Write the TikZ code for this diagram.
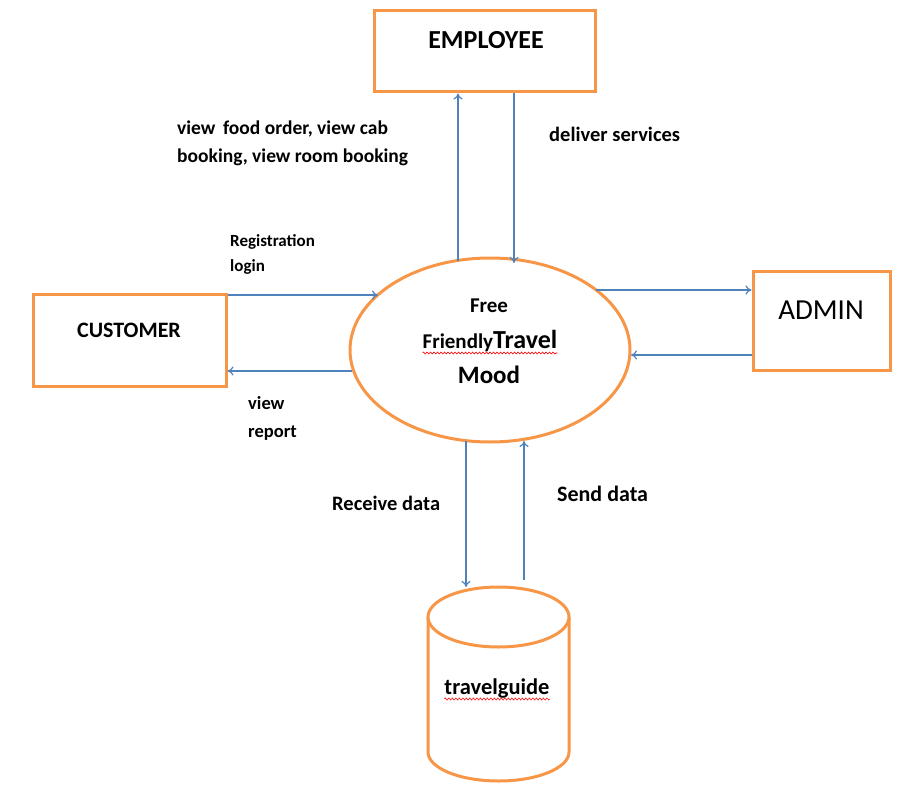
\documentclass[tikz,border=0pt]{standalone}
\usepackage{fontspec}
\setmainfont{Carlito}
\usetikzlibrary{arrows.meta,shapes.geometric,decorations.pathmorphing}
\definecolor{orng}{HTML}{F79646}
\definecolor{flowblue}{HTML}{4F81BD}
\begin{document}
\begin{tikzpicture}[x=1pt,y=-1pt,
  box/.style={draw=orng,line width=3pt,fill=white,inner sep=0pt},
  flow/.style={draw=flowblue,line width=1.2pt,-{To[length=6pt,width=9pt]}},
  lbl/.style={font=\bfseries\fontsize{19.5}{28}\selectfont,align=left,anchor=north west,inner sep=0pt},
  title/.style={font=\bfseries\fontsize{26}{28}\selectfont,inner sep=0pt},
  squig/.style={draw=red,line width=0.6pt,decorate,decoration={snake,amplitude=1pt,segment length=3.5pt}},
]
\useasboundingbox (0,0) rectangle (902,789);
% boxes
\node[box,minimum width=221pt,minimum height=81pt] (emp) at (484.5,51.5) {};
\node[title] (empt) at (486,40) {EMPLOYEE};
\node[box,minimum width=193pt,minimum height=92pt] (cust) at (129.5,340.5) {};
\node[title,font=\bfseries\fontsize{22}{24}\selectfont] (custt) at (129,330) {CUSTOMER};
\node[box,minimum width=137pt,minimum height=99pt] (adm) at (821.5,320.5) {};
\node[title,font=\fontsize{29}{30}\selectfont] (admt) at (821,310) {ADMIN};
% process
\node[draw=orng,line width=3pt,ellipse,minimum width=280pt,minimum height=184pt,inner sep=0pt] (proc) at (490,350) {};
\node[title,font=\bfseries\fontsize{21}{22}\selectfont] (p1) at (489,306) {Free};
\node[title,font=\bfseries\fontsize{21}{22}\selectfont,anchor=base] (p2) at (490,348) {Friendly\fontsize{26}{28}\selectfont Travel};
\node[title,font=\bfseries\fontsize{25}{28}\selectfont] (p3) at (489,375) {Mood};
\draw[squig] (p2.base west) ++(0,5) coordinate (sq1) -- (p2.base east |- sq1);
% data store
\coordinate (dbc) at (498.5,617);
\draw[orng,line width=3pt] (428,617) -- (428,752) arc[start angle=180,end angle=360,x radius=70.5,y radius=-29] -- (569,617);
\draw[orng,line width=3pt,fill=white] (dbc) ellipse [x radius=70.5,y radius=30];
\node[title,font=\bfseries\fontsize{22.5}{24}\selectfont,anchor=base] (dbt) at (497,694) {travelguide};
\draw[squig] (dbt.base west) ++(0,5) coordinate (sq2) -- (dbt.base east |- sq2);
% connection points on the process ellipse
\coordinate (pe1) at (458,260.5);
\coordinate (pe2) at (514,263);
\coordinate (pe3) at (378,295);
\coordinate (pe4) at (352,371);
\coordinate (pe5) at (596,290);
\coordinate (pe6) at (631,355);
\coordinate (pe7) at (466,440.5);
\coordinate (pe8) at (524,441);
\coordinate (db1) at (466,587);
\coordinate (db2) at (524,580);
% flows
\draw[flow] (pe1) -- (emp.south -| pe1);
\draw[flow] (emp.south -| pe2) -- (pe2);
\draw[flow] (cust.east |- pe3) -- (pe3);
\draw[flow] (pe4) -- (cust.east |- pe4);
\draw[flow] (pe5) -- (adm.west |- pe5);
\draw[flow] (adm.west |- pe6) -- (pe6);
\draw[flow] (pe7) -- (db1);
\draw[flow] (db2) -- (pe8);
% labels
\node[lbl] (l1) at (177,121) {view\, food order, view cab\\booking, view room booking};
\node[lbl,font=\bfseries\fontsize{20.5}{28}\selectfont] (l2) at (549,127) {deliver services};
\node[lbl,font=\bfseries\fontsize{17}{25}\selectfont] (l3) at (230,234) {Registration\\login};
\node[lbl,font=\bfseries\fontsize{18.5}{28}\selectfont] (l4) at (248,396) {view\\report};
\node[lbl,font=\bfseries\fontsize{20.5}{24}\selectfont] (l5) at (332,496) {Receive data};
\node[lbl,font=\bfseries\fontsize{22}{24}\selectfont] (l6) at (557,486) {Send data};
\end{tikzpicture}
\end{document}
